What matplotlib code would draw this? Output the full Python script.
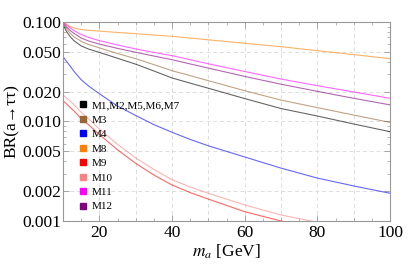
import matplotlib
matplotlib.use("Agg")
import matplotlib.pyplot as plt
from matplotlib.lines import Line2D
from matplotlib.ticker import FixedLocator, NullFormatter, MultipleLocator

plt.rcParams['font.family'] = ['Liberation Serif', 'DejaVu Serif']
plt.rcParams['mathtext.fontset'] = 'stix'

m_a = [10, 11, 12, 13, 15, 17, 20, 25, 30, 35, 40, 45, 50, 60, 70, 80, 90, 100]
br_M1 = [0.094, 0.080, 0.071, 0.065, 0.0575, 0.0535, 0.0495, 0.0432, 0.0377, 0.0322, 0.0274, 0.0243, 0.0216,
         0.017, 0.0135, 0.01135, 0.00944, 0.0079]
br_M3 = [0.096, 0.085, 0.077, 0.071, 0.064, 0.0595, 0.055, 0.0482, 0.0428, 0.0373, 0.0324, 0.0289, 0.0257,
         0.0204, 0.0164, 0.0138, 0.0116, 0.0098]
br_M4 = [0.045, 0.040, 0.036, 0.032, 0.0263, 0.0228, 0.019, 0.0143, 0.0115, 0.0093, 0.0078, 0.0066, 0.0057,
         0.0044, 0.0034, 0.0027, 0.00225, 0.0019]
br_M8 = [0.103, 0.095, 0.090, 0.087, 0.084, 0.0825, 0.081, 0.0785, 0.0763, 0.074, 0.0718, 0.069, 0.0662,
         0.0611, 0.0565, 0.0515, 0.047, 0.0428]
br_M9 = [0.0162, 0.0150, 0.0138, 0.0128, 0.0107, 0.0093, 0.0074, 0.0052, 0.0038, 0.0029, 0.0023, 0.00193, 0.00166,
         0.00124, 0.001, 0.00083, 0.0007, 0.0006]
br_M10 = [0.0185, 0.0172, 0.016, 0.0148, 0.0124, 0.0107, 0.0084, 0.0059, 0.0043, 0.0033, 0.0026, 0.0022, 0.0019,
          0.00145, 0.00115, 0.00097, 0.00083, 0.0007]
br_M11 = [0.100, 0.093, 0.087, 0.082, 0.075, 0.070, 0.065, 0.0588, 0.0536, 0.0495, 0.0459, 0.0418, 0.038,
          0.0318, 0.0267, 0.0229, 0.0198, 0.0171]
br_M12 = [0.098, 0.089, 0.082, 0.077, 0.069, 0.0645, 0.060, 0.0543, 0.0496, 0.0455, 0.0418, 0.0379, 0.0344,
          0.0284, 0.0237, 0.0201, 0.0171, 0.0147]

labels = ["M1,M2,M5,M6,M7", "M3", "M4", "M8", "M9", "M10", "M11", "M12"]
series = [br_M1, br_M3, br_M4, br_M8, br_M9, br_M10, br_M11, br_M12]
colors = ["#000000", "#996633", "#0000ff", "#ff8000", "#ff0000", "#ff8080", "#ff00ff", "#800080"]

yticks = [0.001, 0.002, 0.005, 0.010, 0.020, 0.050, 0.100]
yticklabels = ["0.001", "0.002", "0.005", "0.010", "0.020", "0.050", "0.100"]
xticks = [20, 40, 60, 80, 100]

fig = plt.figure(figsize=(4.15, 2.66), dpi=100)
ax = fig.add_axes([0.1518, 0.1692, 0.9398 - 0.1518, 0.9173 - 0.1692])

for y, c in zip(series, colors):
    ax.plot(m_a, y, color=c, lw=0.8, alpha=0.6, solid_joinstyle='round')

ax.set_yscale('log')
ax.set_xlim(10, 100)
ax.set_ylim(0.001, 0.1)

ax.set_yticks(yticks)
ax.set_yticklabels(yticklabels)
minor_y = [v * 1e-3 for v in [3, 4, 6, 7, 8, 9]] + [v * 1e-2 for v in [3, 4, 6, 7, 8, 9]]
ax.yaxis.set_minor_locator(FixedLocator(minor_y))
ax.yaxis.set_minor_formatter(NullFormatter())
ax.set_xticks(xticks)
ax.xaxis.set_minor_locator(MultipleLocator(5))

# grid
for gx in [20, 30, 40, 50, 60, 70, 80, 90]:
    ax.axvline(gx, color='#dddddd', lw=0.7, ls=(0, (4, 3)), zorder=0)
for gy in [0.002, 0.005, 0.01, 0.02, 0.05]:
    ax.axhline(gy, color='#dddddd', lw=0.7, ls=(0, (4, 3)), zorder=0)

for s in ax.spines.values():
    s.set_color('#999999')
    s.set_linewidth(0.8)
ax.tick_params(which='both', direction='in', top=True, right=True, color='#999999',
               labelsize=12.5, labelcolor='black')
ax.tick_params(which='major', length=4, width=0.6)
ax.tick_params(which='minor', length=2, width=0.5)
ax.tick_params(axis='y', pad=1)
ax.tick_params(axis='x', pad=3)

ax.set_ylabel("BR(a\u2192\u03c4\u03c4)", fontsize=12.5, labelpad=2)
ax.set_xlabel("$m_a$ [GeV]", fontsize=12.5, labelpad=1)

handles = [Line2D([], [], marker='s', ls='none', color=c, markersize=4.6) for c in colors]
leg = ax.legend(handles, labels, loc='upper left', bbox_to_anchor=(0.05, 0.605),
                frameon=False, fontsize=8, handlelength=0.6, handletextpad=0.5,
                labelspacing=0.42, borderaxespad=0, borderpad=0)

fig.savefig("out.png", dpi=100)
